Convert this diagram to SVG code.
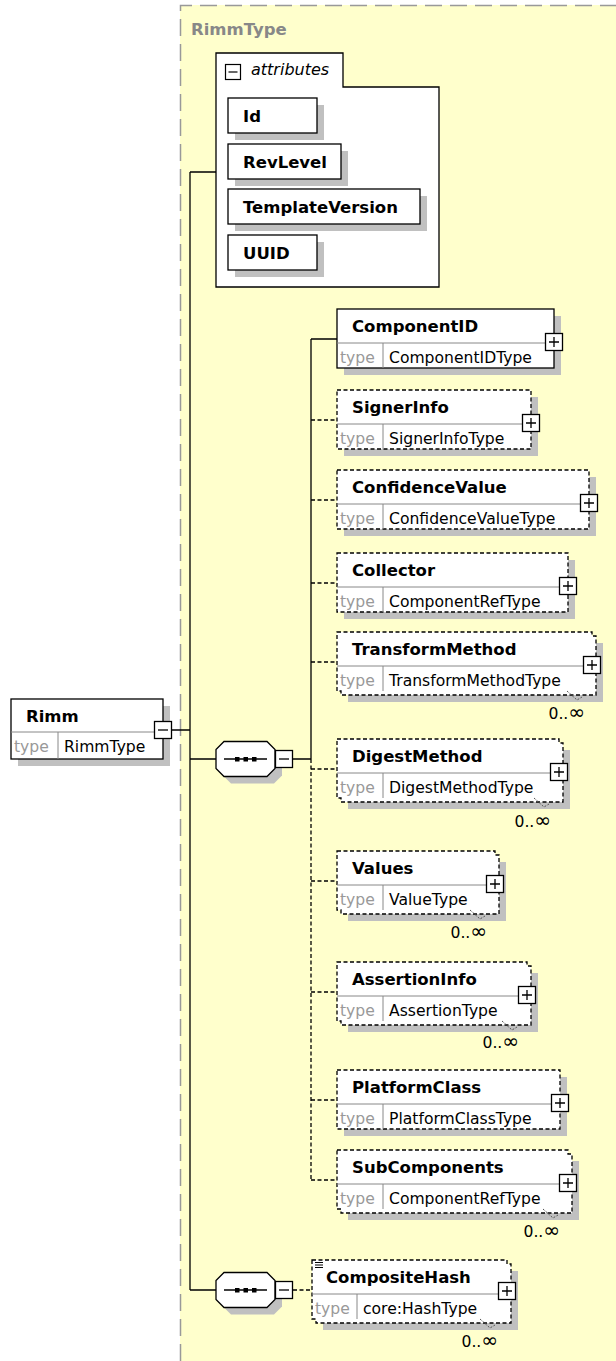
<svg xmlns="http://www.w3.org/2000/svg" xmlns:xlink="http://www.w3.org/1999/xlink" width="616" height="1361" viewBox="0 0 616 1361">
  <style>
    .bg { fill: #ffffcc; }
    .frame { fill: none; stroke: #999; stroke-width: 1.5; stroke-dasharray: 17 8; }
    .shd { fill: #c0c0c0; stroke: none; }
    .box { fill: #fff; stroke: #000; stroke-width: 1.3; }
    .opt { fill: #fff; stroke: #000; stroke-width: 1.3; stroke-dasharray: 4 2.5; }
    .div { stroke: #888; stroke-width: 1; fill: none; }
    .ln { stroke: #000; stroke-width: 1.3; fill: none; }
    .dln { stroke: #000; stroke-width: 1.3; fill: none; stroke-dasharray: 4 2.5; }
    .mk { stroke: #555; stroke-width: 1; fill: none; stroke-dasharray: 2 1.5; }
    .nm { font-family: "DejaVu Sans", sans-serif; font-weight: bold; font-size: 16.5px; fill: #000; }
    .hd { font-family: "DejaVu Sans", sans-serif; font-weight: bold; font-size: 16.5px; fill: #888; }
    .it { font-family: "DejaVu Sans", sans-serif; font-style: italic; font-size: 16px; fill: #000; }
    .ty { font-family: "DejaVu Sans", sans-serif; font-size: 15.6px; fill: #999; }
    .tn { font-family: "DejaVu Sans", sans-serif; font-size: 15.6px; fill: #000; }
    .oc { font-family: "DejaVu Sans", sans-serif; font-size: 15.6px; fill: #000; text-anchor: end; }
    .inf { font-size: 20px; }
  </style>
  <defs>
    <g id="plus">
      <rect x="0.5" y="0.5" width="17" height="17" fill="#fff" stroke="#000" stroke-width="1.3"/>
      <path d="M4 9H14M9 4V14" stroke="#000" stroke-width="1.3"/>
    </g>
    <g id="minus">
      <rect x="0.5" y="0.5" width="17" height="17" fill="#fff" stroke="#000" stroke-width="1.3"/>
      <path d="M4 9H14" stroke="#000" stroke-width="1.3"/>
    </g>
    <g id="seq">
      <polygon points="15,7 58,7 66,15 66,34 58,42 15,42 7,34 7,15" class="shd"/>
      <polygon points="8,0 51,0 59,8 59,27 51,35 8,35 0,27 0,8" class="box"/>
      <path d="M8 17.5H51" class="ln"/>
      <rect x="19" y="15.5" width="4.5" height="4.5" fill="#000"/>
      <rect x="27.5" y="15.5" width="4.5" height="4.5" fill="#000"/>
      <rect x="36" y="15.5" width="4.5" height="4.5" fill="#000"/>
    </g>
  </defs>

  <!-- complex type area -->
  <rect x="180" y="5" width="440" height="1360" class="bg"/>
  <path d="M180.5 1361V5.5H616" class="frame"/>
  <text x="191" y="35" class="hd">RimmType</text>

  <!-- connectors -->
  <g id="connectors">
    <path d="M172 730H190M190 172V1290M190 172H216M190 759H216M190 1290H216" class="ln"/>
    <path d="M293 759H311M311 339V759M311 339H337" class="ln"/>
    <path d="M311 759V1180" class="dln"/>
    <path d="M311 420H337M311 500H337M311 583H337M311 662H337M311 769H337M311 881H337M311 992H337M311 1100H337M311 1180H337" class="dln"/>
    <path d="M293 1290H312" class="dln"/>
  </g>

  <!-- root element -->
  <g id="rimm">
    <rect x="18" y="706" width="152" height="60" class="shd"/>
    <rect x="11" y="699" width="152" height="60" class="box"/>
    <line x1="11" y1="732" x2="163" y2="732" class="div"/>
    <line x1="58" y1="732" x2="58" y2="759" class="div"/>
    <text x="26" y="722" class="nm">Rimm</text>
    <text x="14" y="752" class="ty">type</text>
    <text x="64" y="752" class="tn">RimmType</text>
    <use xlink:href="#minus" x="154" y="721"/>
  </g>

  <!-- attribute group -->
  <g id="attributes">
    <polygon points="216,53 343,53 343,87 439,87 439,287 216,287" class="box"/>
    <rect x="225.5" y="64.5" width="15" height="15" fill="#fff" stroke="#000" stroke-width="1.2"/>
    <path d="M228.5 72H237.5" stroke="#000" stroke-width="1.2"/>
    <text x="251" y="75" class="it">attributes</text>
    <g id="attr-id">
      <rect x="235" y="105" width="89" height="35" class="shd"/>
      <rect x="228" y="98" width="89" height="35" class="box"/>
      <text x="243" y="122" class="nm">Id</text>
    </g>
    <g id="attr-revlevel">
      <rect x="235" y="151" width="113" height="35" class="shd"/>
      <rect x="228" y="144" width="113" height="35" class="box"/>
      <text x="243" y="168" class="nm">RevLevel</text>
    </g>
    <g id="attr-templateversion">
      <rect x="235" y="196" width="192" height="35" class="shd"/>
      <rect x="228" y="189" width="192" height="35" class="box"/>
      <text x="243" y="213" class="nm">TemplateVersion</text>
    </g>
    <g id="attr-uuid">
      <rect x="235" y="242" width="89" height="35" class="shd"/>
      <rect x="228" y="235" width="89" height="35" class="box"/>
      <text x="243" y="259" class="nm">UUID</text>
    </g>
  </g>

  <!-- sequence compositors -->
  <g id="sequence-main">
    <use xlink:href="#seq" x="216" y="741.5"/>
    <use xlink:href="#minus" x="275" y="750"/>
  </g>
  <g id="sequence-hash">
    <use xlink:href="#seq" x="216" y="1272.5"/>
    <use xlink:href="#minus" x="275" y="1281"/>
  </g>

  <!-- child elements -->
  <g id="componentid">
    <rect x="344" y="316" width="217" height="59" class="shd"/>
    <rect x="337" y="309" width="217" height="59" class="box"/>
    <line x1="337" y1="343" x2="554" y2="343" class="div"/>
    <line x1="383" y1="343" x2="383" y2="368" class="div"/>
    <text x="352" y="332" class="nm">ComponentID</text>
    <text x="340" y="363" class="ty">type</text>
    <text x="389" y="363" class="tn">ComponentIDType</text>
    <use xlink:href="#plus" x="545" y="333"/>
  </g>

  <g id="signerinfo">
    <rect x="344" y="397" width="194" height="59" class="shd"/>
    <rect x="337" y="390" width="194" height="59" class="opt"/>
    <line x1="337" y1="424" x2="531" y2="424" class="div"/>
    <line x1="383" y1="424" x2="383" y2="449" class="div"/>
    <text x="352" y="413" class="nm">SignerInfo</text>
    <text x="340" y="444" class="ty">type</text>
    <text x="389" y="444" class="tn">SignerInfoType</text>
    <use xlink:href="#plus" x="522" y="414"/>
  </g>

  <g id="confidencevalue">
    <rect x="344" y="477" width="252" height="59" class="shd"/>
    <rect x="337" y="470" width="252" height="59" class="opt"/>
    <line x1="337" y1="504" x2="589" y2="504" class="div"/>
    <line x1="383" y1="504" x2="383" y2="529" class="div"/>
    <text x="352" y="493" class="nm">ConfidenceValue</text>
    <text x="340" y="524" class="ty">type</text>
    <text x="389" y="524" class="tn">ConfidenceValueType</text>
    <use xlink:href="#plus" x="580" y="494"/>
  </g>

  <g id="collector">
    <rect x="344" y="560" width="231" height="59" class="shd"/>
    <rect x="337" y="553" width="231" height="59" class="opt"/>
    <line x1="337" y1="587" x2="568" y2="587" class="div"/>
    <line x1="383" y1="587" x2="383" y2="612" class="div"/>
    <text x="352" y="576" class="nm">Collector</text>
    <text x="340" y="607" class="ty">type</text>
    <text x="389" y="607" class="tn">ComponentRefType</text>
    <use xlink:href="#plus" x="559" y="577"/>
  </g>

  <g id="transformmethod">
    <rect x="348" y="643" width="255" height="59" class="shd"/>
    <polygon points="337,632 592,632 592,636 596,636 596,695 341,695 341,691 337,691" class="opt"/>
    <line x1="337" y1="666" x2="592" y2="666" class="div"/>
    <line x1="383" y1="666" x2="383" y2="691" class="div"/>
    <text x="352" y="655" class="nm">TransformMethod</text>
    <text x="340" y="686" class="ty">type</text>
    <text x="389" y="686" class="tn">TransformMethodType</text>
    <use xlink:href="#plus" x="583" y="656"/>
    <polyline points="567,691 577,700 582,697" class="mk"/>
    <text x="585" y="719" class="oc">0..<tspan class="inf">∞</tspan></text>
  </g>

  <g id="digestmethod">
    <rect x="348" y="750" width="222" height="59" class="shd"/>
    <polygon points="337,739 559,739 559,743 563,743 563,802 341,802 341,798 337,798" class="opt"/>
    <line x1="337" y1="773" x2="559" y2="773" class="div"/>
    <line x1="383" y1="773" x2="383" y2="798" class="div"/>
    <text x="352" y="762" class="nm">DigestMethod</text>
    <text x="340" y="793" class="ty">type</text>
    <text x="389" y="793" class="tn">DigestMethodType</text>
    <use xlink:href="#plus" x="550" y="763"/>
    <polyline points="534,798 544,807 549,804" class="mk"/>
    <text x="551" y="827" class="oc">0..<tspan class="inf">∞</tspan></text>
  </g>

  <g id="values">
    <rect x="348" y="862" width="158" height="59" class="shd"/>
    <polygon points="337,851 495,851 495,855 499,855 499,914 341,914 341,910 337,910" class="opt"/>
    <line x1="337" y1="885" x2="495" y2="885" class="div"/>
    <line x1="383" y1="885" x2="383" y2="910" class="div"/>
    <text x="352" y="874" class="nm">Values</text>
    <text x="340" y="905" class="ty">type</text>
    <text x="389" y="905" class="tn">ValueType</text>
    <use xlink:href="#plus" x="486" y="875"/>
    <polyline points="470,910 480,919 485,916" class="mk"/>
    <text x="487" y="938" class="oc">0..<tspan class="inf">∞</tspan></text>
  </g>

  <g id="assertioninfo">
    <rect x="348" y="973" width="190" height="59" class="shd"/>
    <polygon points="337,962 527,962 527,966 531,966 531,1025 341,1025 341,1021 337,1021" class="opt"/>
    <line x1="337" y1="996" x2="527" y2="996" class="div"/>
    <line x1="383" y1="996" x2="383" y2="1021" class="div"/>
    <text x="352" y="985" class="nm">AssertionInfo</text>
    <text x="340" y="1016" class="ty">type</text>
    <text x="389" y="1016" class="tn">AssertionType</text>
    <use xlink:href="#plus" x="518" y="986"/>
    <polyline points="502,1021 512,1030 517,1027" class="mk"/>
    <text x="519" y="1048" class="oc">0..<tspan class="inf">∞</tspan></text>
  </g>

  <g id="platformclass">
    <rect x="344" y="1077" width="223" height="59" class="shd"/>
    <rect x="337" y="1070" width="223" height="59" class="opt"/>
    <line x1="337" y1="1104" x2="560" y2="1104" class="div"/>
    <line x1="383" y1="1104" x2="383" y2="1129" class="div"/>
    <text x="352" y="1093" class="nm">PlatformClass</text>
    <text x="340" y="1124" class="ty">type</text>
    <text x="389" y="1124" class="tn">PlatformClassType</text>
    <use xlink:href="#plus" x="551" y="1094"/>
  </g>

  <g id="subcomponents">
    <rect x="348" y="1161" width="231" height="59" class="shd"/>
    <polygon points="337,1150 568,1150 568,1154 572,1154 572,1213 341,1213 341,1209 337,1209" class="opt"/>
    <line x1="337" y1="1184" x2="568" y2="1184" class="div"/>
    <line x1="383" y1="1184" x2="383" y2="1209" class="div"/>
    <text x="352" y="1173" class="nm">SubComponents</text>
    <text x="340" y="1204" class="ty">type</text>
    <text x="389" y="1204" class="tn">ComponentRefType</text>
    <use xlink:href="#plus" x="559" y="1174"/>
    <polyline points="543,1209 553,1218 558,1215" class="mk"/>
    <text x="560" y="1237" class="oc">0..<tspan class="inf">∞</tspan></text>
  </g>

  <g id="compositehash">
    <rect x="323" y="1271" width="195" height="59" class="shd"/>
    <polygon points="312,1260 507,1260 507,1264 511,1264 511,1323 316,1323 316,1319 312,1319" class="opt"/>
    <line x1="312" y1="1294" x2="507" y2="1294" class="div"/>
    <line x1="357" y1="1294" x2="357" y2="1319" class="div"/>
    <path d="M315 1262.5H323M315 1265H323M315 1267.5H323" stroke="#000" stroke-width="1"/>
    <text x="326" y="1283" class="nm">CompositeHash</text>
    <text x="315" y="1314" class="ty">type</text>
    <text x="363" y="1314" class="tn">core:HashType</text>
    <use xlink:href="#plus" x="498" y="1282"/>
    <polyline points="480,1319 490,1328 495,1325" class="mk"/>
    <text x="498" y="1347" class="oc">0..<tspan class="inf">∞</tspan></text>
  </g>
</svg>
